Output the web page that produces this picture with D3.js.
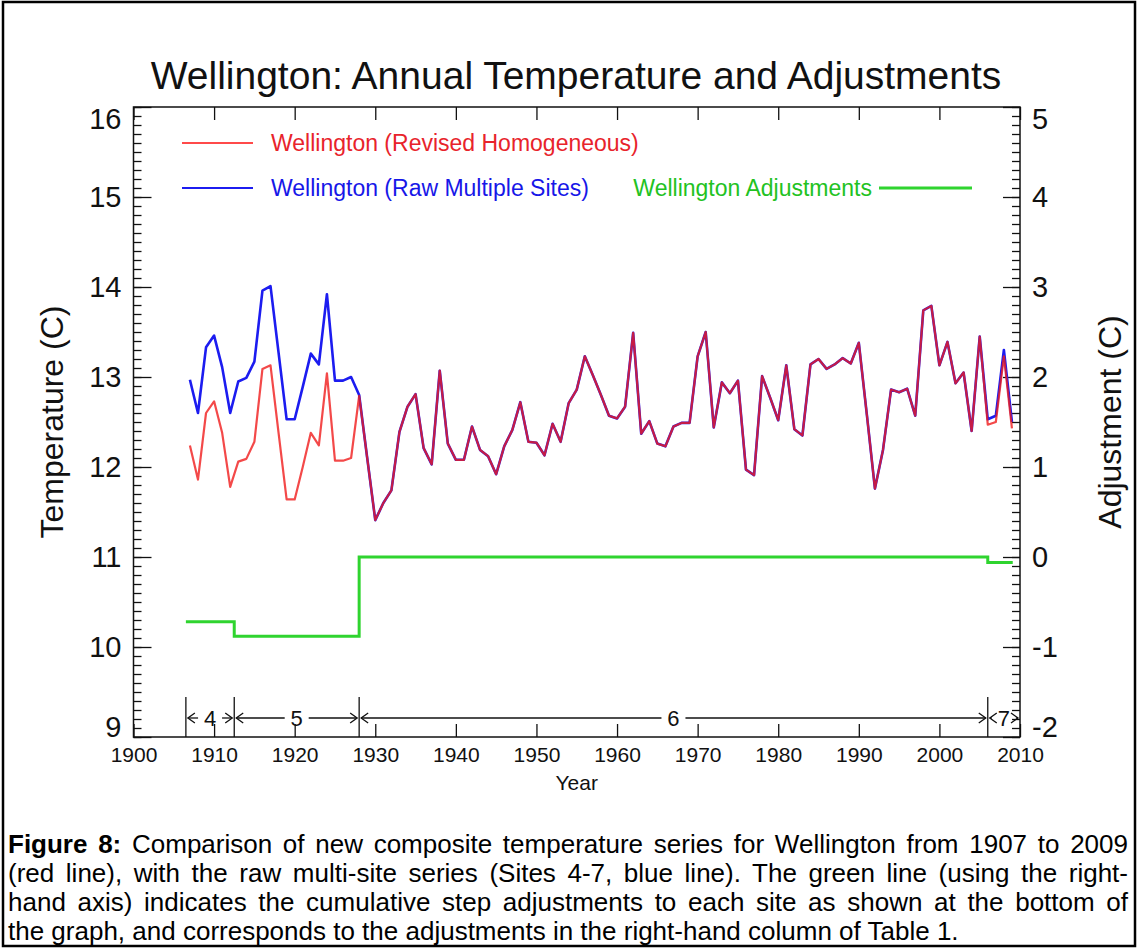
<!DOCTYPE html>
<html>
<head>
<meta charset="utf-8">
<script src="https://cdn.jsdelivr.net/npm/d3@7"></script>
<style>
  html, body { margin: 0; padding: 0; background: #fff; }
  svg { display: block; font-family: "Liberation Sans", Arial, Helvetica, sans-serif; }
</style>
</head>
<body>
<div id="chart"></div>
<script>

// Annual mean temperature, raw multi-site series (blue) and the revised homogeneous series (red)
var years = [
  1907, 1908, 1909, 1910, 1911, 1912, 1913, 1914, 1915, 1916, 1917, 1918, 1919, 1920,
  1921, 1922, 1923, 1924, 1925, 1926, 1927, 1928, 1929, 1930, 1931, 1932, 1933, 1934,
  1935, 1936, 1937, 1938, 1939, 1940, 1941, 1942, 1943, 1944, 1945, 1946, 1947, 1948,
  1949, 1950, 1951, 1952, 1953, 1954, 1955, 1956, 1957, 1958, 1959, 1960, 1961, 1962,
  1963, 1964, 1965, 1966, 1967, 1968, 1969, 1970, 1971, 1972, 1973, 1974, 1975, 1976,
  1977, 1978, 1979, 1980, 1981, 1982, 1983, 1984, 1985, 1986, 1987, 1988, 1989, 1990,
  1991, 1992, 1993, 1994, 1995, 1996, 1997, 1998, 1999, 2000, 2001, 2002, 2003, 2004,
  2005, 2006, 2007, 2008, 2009
];

var rawTemp = [
  12.97, 12.60, 13.33, 13.46, 13.11, 12.60, 12.95, 12.99, 13.17, 13.96, 14.01, 13.27, 12.53, 12.53,
  12.89, 13.26, 13.14, 13.92, 12.96, 12.96, 13.00, 12.80, 12.10, 11.41, 11.60, 11.74, 12.39, 12.67,
  12.81, 12.21, 12.03, 13.07, 12.26, 12.08, 12.08, 12.45, 12.19, 12.12, 11.92, 12.23, 12.41, 12.72,
  12.28, 12.27, 12.13, 12.48, 12.28, 12.71, 12.86, 13.23, 13.02, 12.80, 12.57, 12.54, 12.67, 13.49,
  12.37, 12.51, 12.26, 12.23, 12.45, 12.49, 12.49, 13.23, 13.50, 12.44, 12.94, 12.82, 12.96, 11.97,
  11.91, 13.01, 12.77, 12.52, 13.13, 12.42, 12.35, 13.14, 13.20, 13.09, 13.14, 13.21, 13.15, 13.38,
  12.58, 11.76, 12.19, 12.86, 12.83, 12.87, 12.57, 13.74, 13.79, 13.13, 13.39, 12.93, 13.05, 12.40,
  13.45, 12.53, 12.57, 13.30, 12.50
];

var homTemp = [
  12.24, 11.86, 12.60, 12.73, 12.38, 11.78, 12.06, 12.09, 12.28, 13.09, 13.13, 12.38, 11.64, 11.64,
  12.00, 12.38, 12.24, 13.04, 12.07, 12.07, 12.10, 12.79, 12.10, 11.41, 11.60, 11.74, 12.39, 12.67,
  12.81, 12.21, 12.03, 13.07, 12.26, 12.08, 12.08, 12.45, 12.19, 12.12, 11.92, 12.23, 12.41, 12.72,
  12.28, 12.27, 12.13, 12.48, 12.28, 12.71, 12.86, 13.23, 13.02, 12.80, 12.57, 12.54, 12.67, 13.49,
  12.37, 12.51, 12.26, 12.23, 12.45, 12.49, 12.49, 13.23, 13.50, 12.44, 12.94, 12.82, 12.96, 11.97,
  11.91, 13.01, 12.77, 12.52, 13.13, 12.42, 12.35, 13.14, 13.20, 13.09, 13.14, 13.21, 13.15, 13.38,
  12.58, 11.76, 12.19, 12.86, 12.83, 12.87, 12.57, 13.74, 13.79, 13.13, 13.39, 12.93, 13.05, 12.40,
  13.45, 12.47, 12.50, 13.23, 12.43
];

// Cumulative step adjustments (right-hand axis), one value per site
var sites = ["4", "5", "6", "7"];
var siteStart = [1906.5, 1912.5, 1928, 2006];
var siteEnd = [1912.5, 1928, 2006, 2010];
var adjValues = [-0.72, -0.88, 0, -0.06];
var adjLastYear = 2009.1;

// Tick labels
var xTicks = [1900, 1910, 1920, 1930, 1940, 1950, 1960, 1970, 1980, 1990, 2000, 2010];
var tempTicks = [9, 10, 11, 12, 13, 14, 15, 16];
var adjTicks = [-2, -1, 0, 1, 2, 3, 4, 5];

var captionLines = [
  ["Figure 8:", " Comparison of new composite temperature series for Wellington from 1907 to 2009"],
  ["", "(red line), with the raw multi-site series (Sites 4-7, blue line). The green line (using the right-"],
  ["", "hand axis) indicates the cumulative step adjustments to each site as shown at the bottom of"],
  ["", "the graph, and corresponds to the adjustments in the right-hand column of Table 1."]
];

(function() {

  var width = 1137, height = 948;
  var pLeft = 133.5, pRight = 1020, pTop = 107, pBottom = 737;
  var ink = "#111";
  var plain = function(d) { return String(d); };

  var x = d3.scaleLinear().domain([1900, 2010]).range([pLeft, pRight]);
  var yT = d3.scaleLinear().domain([9, 16]).range([pBottom, pTop]);
  var yA = d3.scaleLinear().domain([-2, 5]).range([pBottom, pTop]);

  var svg = d3.select("#chart").append("svg")
      .attr("width", width)
      .attr("height", height);

  svg.append("rect")
      .attr("x", 3).attr("y", 2)
      .attr("width", width - 5).attr("height", height - 4)
      .attr("fill", "#fff")
      .attr("stroke", "#000")
      .attr("stroke-width", 2.5);

  // title
  svg.append("text")
      .attr("x", 576)
      .attr("y", 89)
      .attr("text-anchor", "middle")
      .attr("font-size", 39)
      .attr("fill", ink)
      .text("Wellington: Annual Temperature and Adjustments");

  // axes
  function styleAxis(g, size) {
    g.select(".domain").remove();
    g.selectAll(".tick line").attr("stroke", ink).attr("stroke-width", 1.3);
    g.selectAll(".tick text").attr("fill", ink).attr("font-size", size)
        .attr("font-family", "Liberation Sans, Arial, sans-serif");
  }

  // end labels are kept inside the frame height, as in the original
  function nudgeEnds(g) {
    var labels = g.selectAll(".tick text");
    var n = labels.size();
    labels.filter(function(d, i) { return i === n - 1; }).attr("dy", "0.74em");
    labels.filter(function(d, i) { return i === 0; }).attr("dy", "-0.02em");
  }

  var minorT = d3.range(90, 161).map(function(d) { return d / 10; });

  svg.append("g")
      .attr("transform", "translate(" + pLeft + ",0)")
      .call(d3.axisLeft(yT).tickValues(minorT).tickSize(-8).tickSizeOuter(0).tickFormat(""))
      .call(styleAxis, 0);

  svg.append("g")
      .attr("transform", "translate(" + pLeft + ",0)")
      .call(d3.axisLeft(yT).tickValues(tempTicks).tickSize(-18).tickSizeOuter(0).tickPadding(12).tickFormat(plain))
      .call(styleAxis, 29)
      .call(nudgeEnds);

  svg.append("g")
      .attr("transform", "translate(" + pRight + ",0)")
      .call(d3.axisRight(yA).tickValues(minorT.map(function(d) { return d - 11; })).tickSize(-8).tickSizeOuter(0).tickFormat(""))
      .call(styleAxis, 0);

  svg.append("g")
      .attr("transform", "translate(" + pRight + ",0)")
      .call(d3.axisRight(yA).tickValues(adjTicks).tickSize(-17).tickSizeOuter(0).tickPadding(12).tickFormat(plain))
      .call(styleAxis, 29)
      .call(nudgeEnds);

  svg.append("g")
      .attr("transform", "translate(0," + pBottom + ")")
      .call(d3.axisBottom(x).tickValues(xTicks).tickSize(-13).tickSizeOuter(0).tickPadding(10).tickFormat(plain))
      .call(styleAxis, 21);

  svg.append("g")
      .attr("transform", "translate(0," + pTop + ")")
      .call(d3.axisTop(x).tickValues(xTicks).tickSize(-13).tickSizeOuter(0).tickFormat(""))
      .call(styleAxis, 0);

  svg.append("rect")
      .attr("x", pLeft).attr("y", pTop)
      .attr("width", pRight - pLeft).attr("height", pBottom - pTop)
      .attr("fill", "none")
      .attr("stroke", ink)
      .attr("stroke-width", 1.5);

  // axis titles
  svg.append("text")
      .attr("transform", "translate(63," + (pTop + pBottom) / 2 + ") rotate(-90)")
      .attr("text-anchor", "middle")
      .attr("font-size", 32)
      .attr("fill", ink)
      .text("Temperature (C)");

  svg.append("text")
      .attr("transform", "translate(1121," + (pTop + pBottom) / 2 + ") rotate(-90)")
      .attr("text-anchor", "middle")
      .attr("font-size", 32)
      .attr("fill", ink)
      .text("Adjustment (C)");

  svg.append("text")
      .attr("x", (pLeft + pRight) / 2)
      .attr("y", 790)
      .attr("text-anchor", "middle")
      .attr("font-size", 21)
      .attr("fill", ink)
      .text("Year");

  // data lines
  var tempLine = d3.line()
      .x(function(d) { return x(d[0]); })
      .y(function(d) { return yT(d[1]); });

  svg.append("path")
      .datum(d3.zip(years, rawTemp))
      .attr("fill", "none")
      .attr("stroke", "#1c1cf0")
      .attr("stroke-width", 2.6)
      .attr("stroke-linejoin", "round")
      .attr("d", tempLine);

  svg.append("path")
      .datum(d3.zip(years, homTemp))
      .attr("fill", "none")
      .attr("stroke", "#f01c1c")
      .attr("stroke-opacity", 0.8)
      .attr("stroke-width", 2.2)
      .attr("stroke-linejoin", "round")
      .attr("d", tempLine);

  var adjPoints = d3.zip(siteStart, adjValues).concat([[adjLastYear, adjValues[adjValues.length - 1]]]);

  svg.append("path")
      .datum(adjPoints)
      .attr("fill", "none")
      .attr("stroke", "#2fd42f")
      .attr("stroke-width", 3)
      .attr("d", d3.line()
        .curve(d3.curveStepAfter)
        .x(function(d) { return x(d[0]); })
        .y(function(d) { return yA(d[1]); }));

  // site periods along the bottom
  var siteY = 718, barTop = 697;
  var siteG = svg.append("g").attr("stroke", ink).attr("stroke-width", 1.3).attr("fill", "none");

  siteStart.forEach(function(s) {
    siteG.append("line")
        .attr("x1", x(s)).attr("x2", x(s))
        .attr("y1", barTop).attr("y2", pBottom);
  });

  sites.forEach(function(name, i) {
    var x0 = x(siteStart[i]) + 2, x1 = x(siteEnd[i]) - 2, mid = (x0 + x1) / 2;
    var gap = 12;
    siteG.append("line").attr("x1", x0).attr("x2", mid - gap).attr("y1", siteY).attr("y2", siteY);
    siteG.append("line").attr("x1", mid + gap).attr("x2", x1).attr("y1", siteY).attr("y2", siteY);
    siteG.append("path").attr("d", "M" + (x0 + 7) + "," + (siteY - 5) + "L" + x0 + "," + siteY + "L" + (x0 + 7) + "," + (siteY + 5));
    siteG.append("path").attr("d", "M" + (x1 - 7) + "," + (siteY - 5) + "L" + x1 + "," + siteY + "L" + (x1 - 7) + "," + (siteY + 5));
    svg.append("text")
        .attr("x", mid).attr("y", siteY + 8)
        .attr("text-anchor", "middle")
        .attr("font-size", 22)
        .attr("fill", ink)
        .text(name);
  });

  // legend
  var legend = [
    { label: "Wellington (Revised Homogeneous)", color: "#ff4a4a", text: "#e8232b", x: 182, y: 143 },
    { label: "Wellington (Raw Multiple Sites)", color: "#1c1cf0", text: "#1717e8", x: 182, y: 188 }
  ];

  legend.forEach(function(d) {
    svg.append("line")
        .attr("x1", d.x).attr("x2", d.x + 71)
        .attr("y1", d.y).attr("y2", d.y)
        .attr("stroke", d.color).attr("stroke-width", 2.2);
    svg.append("text")
        .attr("x", d.x + 89).attr("y", d.y + 8)
        .attr("font-size", 23)
        .attr("fill", d.text)
        .text(d.label);
  });

  svg.append("text")
      .attr("x", 872).attr("y", 196)
      .attr("text-anchor", "end")
      .attr("font-size", 23)
      .attr("fill", "#22c222")
      .text("Wellington Adjustments");

  svg.append("line")
      .attr("x1", 879).attr("x2", 972)
      .attr("y1", 188).attr("y2", 188)
      .attr("stroke", "#2fd42f").attr("stroke-width", 3);

  // caption, first three lines justified
  var capX = 8, capW = 1120, capY = 853, capStep = 29;

  captionLines.forEach(function(line, i) {
    var t = svg.append("text")
        .attr("x", capX).attr("y", capY + i * capStep)
        .attr("font-size", 26)
        .attr("fill", "#000")
        .attr("xml:space", "preserve");
    if (line[0]) t.append("tspan").attr("font-weight", "bold").text(line[0]);
    t.append("tspan").text(line[1]);
    if (i < 3) {
      var natural = t.node().getComputedTextLength();
      var spaces = (line[0] + line[1]).split(" ").length - 1;
      t.attr("word-spacing", (capW - natural) / spaces);
    }
  });

})();

</script>
</body>
</html>
